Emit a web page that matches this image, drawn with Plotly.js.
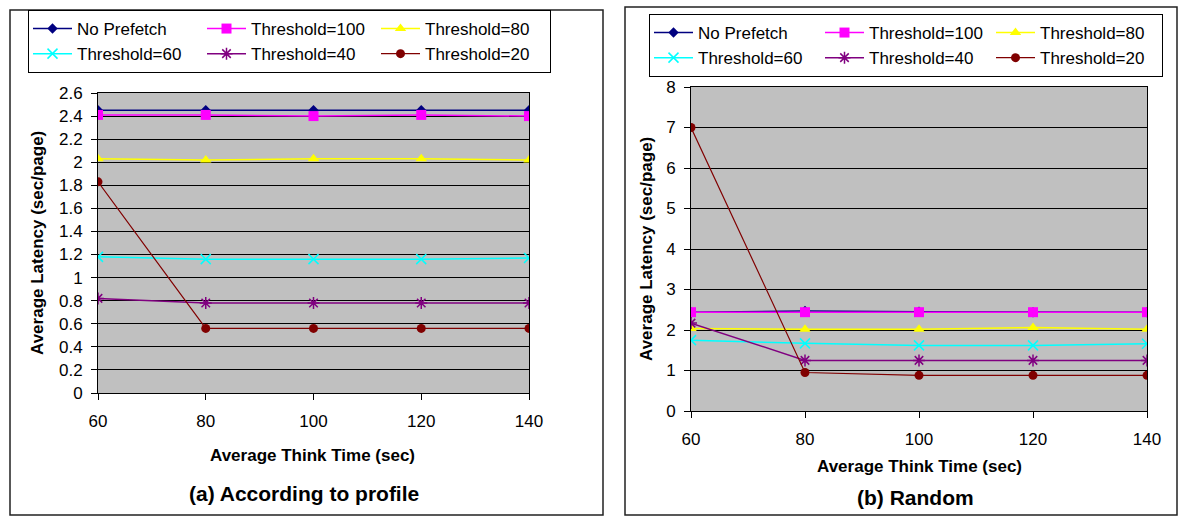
<!DOCTYPE html>
<html>
<head>
<meta charset="utf-8">
<script src="https://cdn.plot.ly/plotly-3.0.1.min.js"></script>
<style>
  html, body { margin: 0; padding: 0; background: #ffffff; }
  #chart { width: 1179px; height: 516px; }
</style>
</head>
<body>
<div id="chart"></div>
<script>
// ---------------- data ----------------
const thinkTime = [60, 80, 100, 120, 140];
const seriesNames = ['No Prefetch', 'Threshold=100', 'Threshold=80', 'Threshold=60', 'Threshold=40', 'Threshold=20'];

// (a) According to profile
const profileNoPrefetch = [2.45, 2.45, 2.45, 2.45, 2.45];
const profileTh100 = [2.41, 2.41, 2.40, 2.41, 2.40];
const profileTh80 = [2.03, 2.02, 2.03, 2.03, 2.02];
const profileTh60 = [1.18, 1.16, 1.16, 1.16, 1.17];
const profileTh40 = [0.82, 0.78, 0.78, 0.78, 0.78];
const profileTh20 = [1.83, 0.56, 0.56, 0.56, 0.56];

// (b) Random
const randomNoPrefetch = [2.44, 2.47, 2.45, 2.44, 2.44];
const randomTh100 = [2.44, 2.44, 2.44, 2.44, 2.44];
const randomTh80 = [2.04, 2.02, 2.02, 2.06, 2.02];
const randomTh60 = [1.75, 1.67, 1.62, 1.62, 1.66];
const randomTh40 = [2.17, 1.25, 1.25, 1.25, 1.25];
const randomTh20 = [7.00, 0.95, 0.88, 0.88, 0.88];

const xTickVals = [60, 80, 100, 120, 140];
const subtitleA = '(a) According to profile';
const subtitleB = '(b) Random';
const xTitle = 'Average Think Time (sec)';
const yTitle = 'Average Latency (sec/page)';

// ---------------- styles ----------------
const W = 1179, H = 516;
const FONT = 'Liberation Sans, Arial, sans-serif';
const styles = [
  { color: '#000080', symbol: 'diamond', size: 8, lw: 1.5 },
  { color: '#FF00FF', symbol: 'square', size: 10, lw: 1.5 },
  { color: '#FFFF00', symbol: 'triangle-up', size: 10, lw: 1.5 },
  { color: '#00FFFF', symbol: 'x-thin-open', size: 10, lw: 1.5 },
  { color: '#800080', symbol: 'asterisk-open', size: 10, lw: 1.5 },
  { color: '#800000', symbol: 'circle', size: 9, lw: 1.2 }
];
const groupOf = [0, 1, 2, 0, 1, 2];

function makeTraces(ys, xa, ya, legendId, prefix) {
  return ys.map((y, i) => {
    const s = styles[i];
    const mk = { symbol: s.symbol, size: s.size, color: s.color };
    if (s.symbol.indexOf('open') >= 0) mk.line = { color: s.color, width: 1.5 };
    return {
      type: 'scatter', mode: 'lines+markers',
      x: thinkTime, y: y, name: seriesNames[i],
      xaxis: xa, yaxis: ya, legend: legendId,
      legendgroup: prefix + groupOf[i],
      line: { color: s.color, width: s.lw },
      marker: mk,
      hoverinfo: 'x+y+name'
    };
  });
}

const traces = [].concat(
  makeTraces([profileNoPrefetch, profileTh100, profileTh80, profileTh60, profileTh40, profileTh20], 'x', 'y', 'legend', 'a'),
  makeTraces([randomNoPrefetch, randomTh100, randomTh80, randomTh60, randomTh40, randomTh20], 'x2', 'y2', 'legend2', 'b')
);

const px = v => v / W;
const py = v => 1 - v / H;

function xAxis(domain, anchor) {
  return {
    domain: domain, anchor: anchor, range: [60, 140],
    tickvals: xTickVals, ticks: 'outside', ticklen: 6, tickcolor: '#000', tickwidth: 1,
    showline: true, linecolor: '#000', linewidth: 1, mirror: true,
    showgrid: false, zeroline: false, fixedrange: true,
    tickfont: { family: FONT, size: 17, color: '#000' },
    ticklabelstandoff: 7
  };
}
function yAxis(domain, anchor, range, dtick) {
  return {
    domain: domain, anchor: anchor, range: range, dtick: dtick, tick0: 0,
    ticks: 'outside', ticklen: 6, tickcolor: '#000', tickwidth: 1,
    showline: true, linecolor: '#000', linewidth: 1, mirror: true,
    showgrid: true, gridcolor: '#000', gridwidth: 1, zeroline: false, fixedrange: true,
    tickfont: { family: FONT, size: 17, color: '#000' },
    ticklabelstandoff: 5
  };
}

function legendCfg(x, y, entrywidth) {
  return {
    x: x, y: y, xanchor: 'left', yanchor: 'top',
    orientation: 'h', traceorder: 'grouped', tracegroupgap: 0,
    bgcolor: '#ffffff', bordercolor: '#000', borderwidth: 1,
    font: { family: FONT, size: 17, color: '#000' },
    itemwidth: 39, entrywidth: entrywidth, entrywidthmode: 'pixels',
    itemclick: false, itemdoubleclick: false
  };
}

const titleFont = { family: FONT, size: 17, color: '#000', weight: 700 };
const subFont = { family: FONT, size: 21, color: '#000', weight: 700 };

const layout = {
  width: W, height: H,
  margin: { l: 0, r: 0, t: 0, b: 0 },
  paper_bgcolor: '#ffffff', plot_bgcolor: '#C0C0C0',
  showlegend: true,
  xaxis: xAxis([px(98), px(529)], 'y'),
  yaxis: yAxis([1 - 393 / H, 1 - 93 / H], 'x', [0, 2.6], 0.2),
  xaxis2: xAxis([px(691), px(1147)], 'y2'),
  yaxis2: yAxis([1 - 411 / H, 1 - 87 / H], 'x2', [0, 8], 1),
  legend: legendCfg(px(28), py(10), 120),
  legend2: legendCfg(px(649), py(14), 117),
  shapes: [
    { type: 'rect', xref: 'paper', yref: 'paper', x0: px(10), x1: px(603), y0: py(515), y1: py(10), line: { color: '#222', width: 1.5 }, layer: 'below' },
    { type: 'rect', xref: 'paper', yref: 'paper', x0: px(625), x1: px(1177), y0: py(515), y1: py(7), line: { color: '#222', width: 1.5 }, layer: 'below' }
  ],
  annotations: [
    { text: xTitle, xref: 'paper', yref: 'paper', x: px(312), y: py(455), xanchor: 'center', yanchor: 'middle', showarrow: false, font: titleFont },
    { text: subtitleA, xref: 'paper', yref: 'paper', x: px(304), y: py(493), xanchor: 'center', yanchor: 'middle', showarrow: false, font: subFont },
    { text: yTitle, xref: 'paper', yref: 'paper', x: px(38), y: py(243), xanchor: 'center', yanchor: 'middle', textangle: -90, showarrow: false, font: titleFont },
    { text: xTitle, xref: 'paper', yref: 'paper', x: px(919), y: py(466), xanchor: 'center', yanchor: 'middle', showarrow: false, font: titleFont },
    { text: subtitleB, xref: 'paper', yref: 'paper', x: px(915), y: py(497), xanchor: 'center', yanchor: 'middle', showarrow: false, font: subFont },
    { text: yTitle, xref: 'paper', yref: 'paper', x: px(647), y: py(249), xanchor: 'center', yanchor: 'middle', textangle: -90, showarrow: false, font: titleFont }
  ]
};

Plotly.newPlot('chart', traces, layout, { displayModeBar: false, staticPlot: false, responsive: false });
</script>
</body>
</html>
